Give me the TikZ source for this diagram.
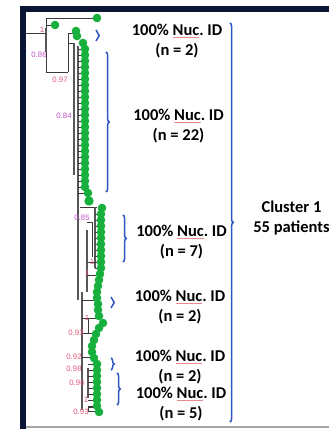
\documentclass[tikz,border=0pt]{standalone}
\usepackage{fontspec}
\setmainfont{Carlito}
\newfontfamily\supportfont{Liberation Sans}
\usetikzlibrary{decorations.pathreplacing}
\definecolor{framenavy}{HTML}{0A1633}
\definecolor{dotgreen}{HTML}{17B03D}
\definecolor{bracketblue}{HTML}{2F55C0}
\definecolor{supportred}{HTML}{E0587A}
\definecolor{supportpink}{HTML}{C44FCB}
\definecolor{treegrey}{HTML}{3A3A3A}
\definecolor{spellred}{HTML}{E88A8A}
\newcommand{\nucword}{\setbox0\hbox{Nuc}\rlap{\color{spellred}\rule[-2.4pt]{\wd0}{0.6pt}}\box0.}
\frenchspacing

\tikzset{
  branch/.style={treegrey,line width=0.7pt},
  thickbranch/.style={treegrey!85,line width=2.2pt},
  support/.style={font=\supportfont\fontsize{7.8}{8}\selectfont,inner sep=0pt},
  idlabel/.style={font=\bfseries\fontsize{16.5}{19.5}\selectfont,align=center,inner sep=0pt},
  clade/.style={bracketblue,line width=1.5pt,decorate,decoration={brace,amplitude=3.2pt}},
}

\begin{document}
\begin{tikzpicture}[x=1pt,y=-1pt]
  \useasboundingbox (0,0) rectangle (329,429);
  % Frame
  \fill[framenavy] (20,6) rectangle (329,12);
  \fill[framenavy] (20,6) rectangle (26,429);
  \draw[gray!70,line width=1.2pt] (26,427) -- (329,427);
  % Tree: top part
  \draw[branch] (26,33) -- (46,33);
  \draw[branch] (46,18) -- (46,72);
  \draw[branch] (46,18) -- (97,18);
  \draw[branch] (46,25) -- (55,25);
  \draw[thickbranch] (46,28) -- (46,52);
  \draw[branch] (46,72) -- (68,72);
  \draw[branch] (68,33) -- (68,72);
  \draw[branch] (68,33) -- (76,33);
  \draw[branch] (68,43) -- (74,43);
  \draw[thickbranch] (74,43) -- (74,175);
  \draw[thickbranch] (78,46) -- (78,300);
  \foreach \y in {49,55,...,187} \draw[branch] (78,\y) -- (85,\y);
  \draw[branch] (78,193) -- (88,193);
  % Tree: middle part
  \draw[branch] (80,207) -- (97,207);
  \draw[thickbranch] (95,207) -- (95,268);
  \draw[branch] (87,222) -- (92,222);
  \draw[thickbranch] (87,230) -- (87,292);
  \draw[branch] (92,222) -- (92,257);
  \foreach \y in {214,220,...,268} \draw[branch] (95,\y) -- (101,\y);
  \draw[branch] (87,262) -- (95,262);
  \draw[branch] (87,275) -- (96,275);
  % Tree: lower part
  \draw[thickbranch] (82,292) -- (82,410);
  \draw[branch] (82,300) -- (97,300);
  \draw[branch] (88,318) -- (88,333);
  \draw[branch] (82,318) -- (99,318);
  \draw[branch] (82,333) -- (95,333);
  \draw[branch] (82,357) -- (92,357);
  \draw[thickbranch] (88,368) -- (88,398);
  \foreach \y in {364,370,...,406} \draw[branch] (88,\y) -- (97,\y);
  \draw[branch] (88,407) rectangle (97,411);
  % Leaves
  \foreach \p in {(97,18),(55,25),(76,31),(77,36),(83,43)}
    \fill[dotgreen] \p circle[radius=4.3pt];
  \foreach \y in {49,55,...,187}
    \fill[dotgreen] (85,\y) circle[radius=4.3pt];
  \fill[dotgreen] (88,193) circle[radius=4.3pt];
  \fill[dotgreen] (89,201) circle[radius=4.7pt];
  \fill[dotgreen] (102,208) circle[radius=4.3pt];
  \foreach \y in {214,220,...,268}
    \fill[dotgreen] (101,\y) circle[radius=4.3pt];
  \foreach \p in {(100,274),(99,280),(98,286),(97,292),(97,298),(98,304),(98,310),(99,316),(103,323),
                  (99,328),(96,334),(94,340),(92,346),(92,352),(94,358)}
    \fill[dotgreen] \p circle[radius=4.3pt];
  \foreach \y in {364,370,...,406}
    \fill[dotgreen] (97,\y) circle[radius=4.3pt];
  \fill[dotgreen] (99,412) circle[radius=4.3pt];
  % Support values
  \node[support,supportred] (s1) at (42,30) {1};
  \node[support,supportpink] (s2) at (39,55) {0.86};
  \node[support,supportred] (s3) at (60,80) {0.97};
  \node[support,supportpink] (s4) at (64,116) {0.84};
  \node[support,supportpink] (s5) at (82,218) {0.85};
  \node[support,supportred] (s6) at (92,262) {1};
  \node[support,supportred] (s7) at (87,273) {1};
  \node[support,supportred] (s8) at (87,318) {1};
  \node[support,supportred] (s9) at (76,333) {0.93};
  \node[support,supportred] (s10) at (74,357) {0.92};
  \node[support,supportred] (s11) at (74,369) {0.98};
  \node[support,supportred] (s12) at (77,383) {0.96};
  \node[support,supportred] (s13) at (86,400) {1};
  \node[support,supportred] (s14) at (81,412) {0.93};
  % Clade brackets
  \draw[clade] (96,30) -- (96,41);
  \draw[clade] (106,52) -- (106,192);
  \draw[clade] (123,215) -- (123,262);
  \draw[clade] (111,297) -- (111,308);
  \draw[clade] (111,358) -- (111,370);
  \draw[clade] (117,373) -- (117,405);
  \draw[clade] (230,23) -- (230,422);
  % Labels
  \node[idlabel] (id1) at (177,41) {100\% \nucword{} ID\\(n = 2)};
  \node[idlabel] (id2) at (178.5,126) {100\% \nucword{} ID\\(n = 22)};
  \node[idlabel] (id3) at (181.5,242) {100\% \nucword{} ID\\(n = 7)};
  \node[idlabel] (id4) at (180,307) {100\% \nucword{} ID\\(n = 2)};
  \node[idlabel] (id5) at (180,367) {100\% \nucword{} ID\\(n = 2)};
  \node[idlabel] (id6) at (181,404) {100\% \nucword{} ID\\(n = 5)};
  \node[idlabel] (cluster) at (291.5,218) {Cluster 1\\55 patients};
\end{tikzpicture}
\end{document}
